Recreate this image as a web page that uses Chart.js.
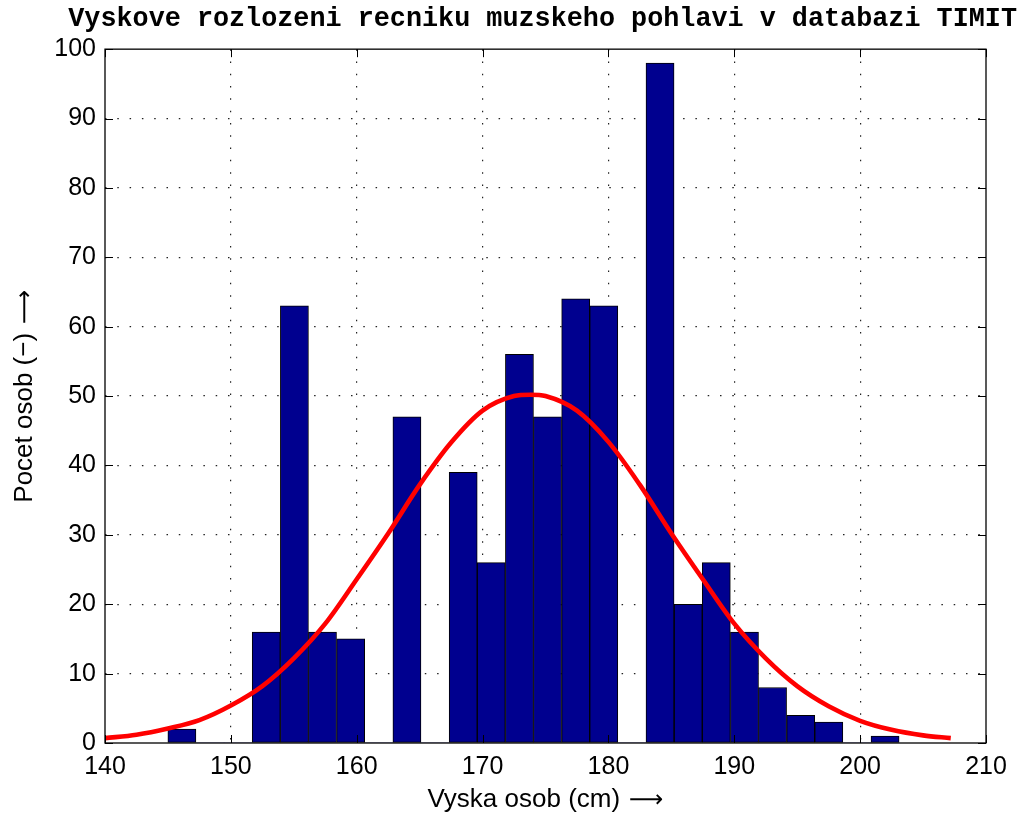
<!DOCTYPE html>
<html>
<head>
<meta charset="utf-8">
<script src="https://cdn.jsdelivr.net/npm/chart.js@4/dist/chart.umd.min.js"></script>
<style>
  html, body { margin: 0; padding: 0; background: #fff; }
  #wrap { width: 1029px; height: 815px; }
</style>
</head>
<body>
<div id="wrap"><canvas id="c" width="1029" height="815"></canvas></div>
<script>
// Histogram of male speaker heights (bin centres in cm, counts per bin)
const binCenters = [146.11, 148.34, 150.58, 152.81, 155.05, 157.28, 159.52, 161.75, 163.99,
                    166.22, 168.46, 170.69, 172.93, 175.16, 177.40, 179.63, 181.87, 184.10,
                    186.34, 188.57, 190.81, 193.04, 195.28, 197.51, 199.75, 201.98];
const binCounts  = [2, 0, 0, 16, 63, 16, 15, 0, 47,
                    0, 39, 26, 56, 47, 64, 63, 0, 98,
                    20, 26, 16, 8, 4, 3, 0, 1];

// Fitted normal curve, sampled along its length
const fitX = [140.0, 142.5, 145.0, 147.5, 150.0, 152.5, 155.0, 157.5, 160.0, 162.5, 165.0,
              167.5, 170.0, 172.5, 173.8, 175.0, 177.5, 180.0, 182.5, 185.0, 187.5, 190.0,
              192.5, 195.0, 197.5, 200.0, 202.5, 205.0, 207.2];
const fitY = [0.7, 1.2, 2.1, 3.3, 5.4, 8.2, 12.2, 17.2, 23.6, 30.2, 37.2,
              43.3, 47.9, 50.0, 50.2, 50.0, 47.9, 43.4, 37.2, 30.2, 23.6, 17.2,
              12.2, 8.2, 5.3, 3.2, 1.9, 1.1, 0.7];

// Axis ticks
const xTicks = [140, 150, 160, 170, 180, 190, 200, 210];
const yTicks = [0, 10, 20, 30, 40, 50, 60, 70, 80, 90, 100];

const titleText = 'Vyskove rozlozeni recniku muzskeho pohlavi v databazi TIMIT';
const xTitleWords = 'Vyska osob (cm)';
const yTitleWords = 'Pocet osob (\u2212)';
const arrowGlyph = '\u27F6';

const barData = binCenters.map((x, i) => ({ x: x, y: binCounts[i] }));
const fitData = fitX.map((x, i) => ({ x: x, y: fitY[i] }));

const tickFont = { family: "'Liberation Sans', Arial, Helvetica, sans-serif", size: 25 };
const gridColor = (lo, hi) => (ctx) =>
  (ctx.tick && (ctx.tick.value === lo || ctx.tick.value === hi)) ? 'rgba(0,0,0,0)' : '#222';

// Box around the axes with inward tick marks on all four sides
const framePlugin = {
  id: 'frame',
  afterDraw(chart) {
    const { ctx, chartArea: a, scales: { x, y } } = chart;
    const len = 8;
    ctx.save();
    ctx.strokeStyle = '#000';
    ctx.lineWidth = 1.3;
    ctx.strokeRect(a.left, a.top, a.right - a.left, a.bottom - a.top);
    ctx.lineWidth = 1;
    ctx.beginPath();
    xTicks.forEach(v => {
      const px = Math.round(x.getPixelForValue(v)) + 0.5;
      ctx.moveTo(px, a.bottom); ctx.lineTo(px, a.bottom - len);
      ctx.moveTo(px, a.top);    ctx.lineTo(px, a.top + len);
    });
    yTicks.forEach(v => {
      const py = Math.round(y.getPixelForValue(v)) + 0.5;
      ctx.moveTo(a.left, py);  ctx.lineTo(a.left + len, py);
      ctx.moveTo(a.right, py); ctx.lineTo(a.right - len, py);
    });
    ctx.stroke();
    ctx.restore();
  }
};

// Axis titles: words in Helvetica-style face followed by a long thin arrow
const axisTitlePlugin = {
  id: 'axisTitles',
  afterDraw(chart) {
    const { ctx, chartArea: a } = chart;
    const wordFont = "26px 'Liberation Sans', Arial, sans-serif";
    const arrowFont = "24px 'DejaVu Sans', sans-serif";
    const gap = 9;
    const drawLabel = (words, cx, baseline) => {
      ctx.font = wordFont;
      const w1 = ctx.measureText(words).width;
      ctx.font = arrowFont;
      const w2 = ctx.measureText(arrowGlyph).width;
      const start = cx - (w1 + gap + w2) / 2;
      ctx.font = wordFont;
      ctx.fillText(words, start, baseline);
      ctx.font = arrowFont;
      ctx.fillText(arrowGlyph, start + w1 + gap, baseline);
    };
    ctx.save();
    ctx.fillStyle = '#000';
    ctx.textAlign = 'left';
    ctx.textBaseline = 'alphabetic';
    drawLabel(xTitleWords, (a.left + a.right) / 2, 807);
    ctx.translate(32, (a.top + a.bottom) / 2);
    ctx.rotate(-Math.PI / 2);
    drawLabel(yTitleWords, 0, 0);
    ctx.restore();
  }
};

new Chart(document.getElementById('c'), {
  type: 'bar',
  data: {
    datasets: [
      {
        type: 'line',
        data: fitData,
        borderColor: '#ff0000',
        borderWidth: 4.6,
        pointRadius: 0,
        fill: false,
        cubicInterpolationMode: 'monotone',
        order: 0
      },
      {
        type: 'bar',
        data: barData,
        backgroundColor: '#00008f',
        borderColor: '#000000',
        borderWidth: (ctx) => (ctx.raw && ctx.raw.y === 0) ? 0 : 1,
        borderSkipped: false,
        barPercentage: 1.0,
        categoryPercentage: 1.0,
        grouped: false,
        order: 1
      }
    ]
  },
  options: {
    responsive: false,
    animation: false,
    devicePixelRatio: 1,
    layout: { padding: { left: 0, right: 12, top: 0, bottom: 0 } },
    plugins: {
      legend: { display: false },
      tooltip: { enabled: false },
      title: {
        display: true,
        text: titleText,
        align: 'end',
        color: '#000',
        font: { family: "'Liberation Mono', 'Courier New', monospace", size: 26.8, weight: 'bold', lineHeight: 1.2 },
        padding: { top: 3, bottom: 14 }
      }
    },
    scales: {
      x: {
        type: 'linear',
        position: 'bottom',
        min: 140,
        max: 210,
        offset: false,
        afterBuildTicks: (s) => { s.ticks = xTicks.map(v => ({ value: v })); },
        afterFit: (s) => { s.height = 72; },
        grid: { display: true, offset: false, drawTicks: false, color: gridColor(140, 210), lineWidth: 1.2 },
        border: { display: false, dash: [1.5, 10.8] },
        ticks: { color: '#000', font: tickFont, padding: 9, autoSkip: false, maxRotation: 0, minRotation: 0 },
        title: { display: false }
      },
      y: {
        type: 'linear',
        position: 'left',
        min: 0,
        max: 100,
        afterBuildTicks: (s) => { s.ticks = yTicks.map(v => ({ value: v })); },
        afterFit: (s) => { s.width = 105; },
        grid: { display: true, drawTicks: false, color: gridColor(0, 100), lineWidth: 1.2 },
        border: { display: false, dash: [1.5, 10.8] },
        ticks: { color: '#000', font: tickFont, padding: 9 },
        title: { display: false }
      },
      r: {
        type: 'linear',
        position: 'right',
        display: true,
        afterFit: (s) => { s.width = 31; },
        grid: { display: false, drawOnChartArea: false },
        border: { display: false },
        ticks: { display: false }
      }
    }
  },
  plugins: [framePlugin, axisTitlePlugin]
});
</script>
</body>
</html>
